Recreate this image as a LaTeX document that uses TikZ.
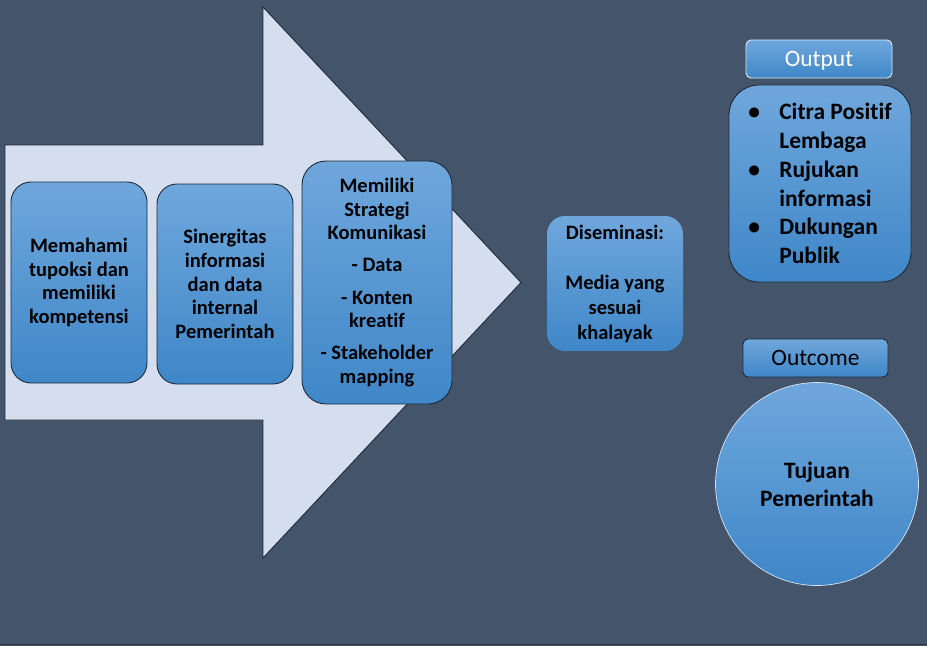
\documentclass[tikz,border=0pt]{standalone}
\usepackage{fontspec}
\setmainfont[Ligatures=NoCommon]{Carlito}
\definecolor{bg}{HTML}{44546A}
\definecolor{arrowfill}{HTML}{D5DEEE}
\definecolor{btop}{HTML}{6FA7DC}
\definecolor{bbot}{HTML}{3F87C8}
\definecolor{edge}{HTML}{1E2A38}
\definecolor{bottomline}{HTML}{2B3544}
\begin{document}
\begin{tikzpicture}[x=1pt,y=-1pt,
  bluebox/.style={draw=edge, line width=0.9pt, top color=btop, bottom color=bbot,
    inner sep=0pt, align=center, font=\bfseries\fontsize{20.5}{23.6}\selectfont},
  labelbox/.style={bluebox, rounded corners=5pt, text depth=0pt, font=\fontsize{23.5}{28}\selectfont},
  bigarrow/.style={draw=edge, line width=0.9pt, fill=arrowfill}]
\fill[bg] (0,0) rectangle (927,646);
\useasboundingbox (0,0) rectangle (927,646);
\draw[bottomline, line width=1.5pt] (0,644.5) -- (927,644.5);
% big arrow
\draw[bigarrow] (5,145) -- (263,145) -- (263,7) -- (521,282.5) -- (263,558)
  -- (263,420) -- (5,420) -- cycle;
% boxes in the arrow
\node[bluebox, rounded corners=20pt, minimum width=136pt, minimum height=201pt] (b1) at (79,282.5)
  {Memahami\\tupoksi dan\\memiliki\\kompetensi};
\node[bluebox, rounded corners=20pt, minimum width=136pt, minimum height=200pt] (b2) at (225,284)
  {Sinergitas\\informasi\\dan data\\internal\\Pemerintah};
\node[bluebox, rounded corners=24pt, minimum width=150pt, minimum height=243pt] (b3) at (377,282.5)
  {Memiliki\\Strategi\\Komunikasi\\[8.5pt]- Data\\[8.5pt]- Konten\\kreatif\\[8.5pt]- Stakeholder\\mapping};
% diseminasi
\node[bluebox, draw=none, rounded corners=18pt, minimum width=136pt, minimum height=135pt,
  font=\bfseries\fontsize{20.5}{25}\selectfont] (dis) at (615,283.5)
  {Diseminasi:\\[25pt]Media yang\\sesuai\\khalayak};
% output
\node[labelbox, draw=white!75!btop, text=white, minimum width=146pt, minimum height=38pt] (outlbl) at (819,59) {Output};
\node[bluebox, rounded corners=30pt, minimum width=182pt, minimum height=197pt, align=left,
  font=\bfseries\fontsize{23.5}{28.8}\selectfont] (outbox) at (820,183.5)
  {\makebox[31pt][l]{•}Citra Positif\\\hspace*{31pt}Lembaga\\\makebox[31pt][l]{•}Rujukan\\\hspace*{31pt}informasi\\\makebox[31pt][l]{•}Dukungan\\\hspace*{31pt}Publik};
% outcome
\node[labelbox, text=black, minimum width=145pt, minimum height=38pt] (outclbl) at (815.5,358) {Outcome};
\node[bluebox, circle, draw=white!70!btop, line width=0.7pt, minimum size=203pt,
  font=\bfseries\fontsize{23.5}{28}\selectfont] (goal) at (817,484) {Tujuan\\Pemerintah};
\end{tikzpicture}
\end{document}
